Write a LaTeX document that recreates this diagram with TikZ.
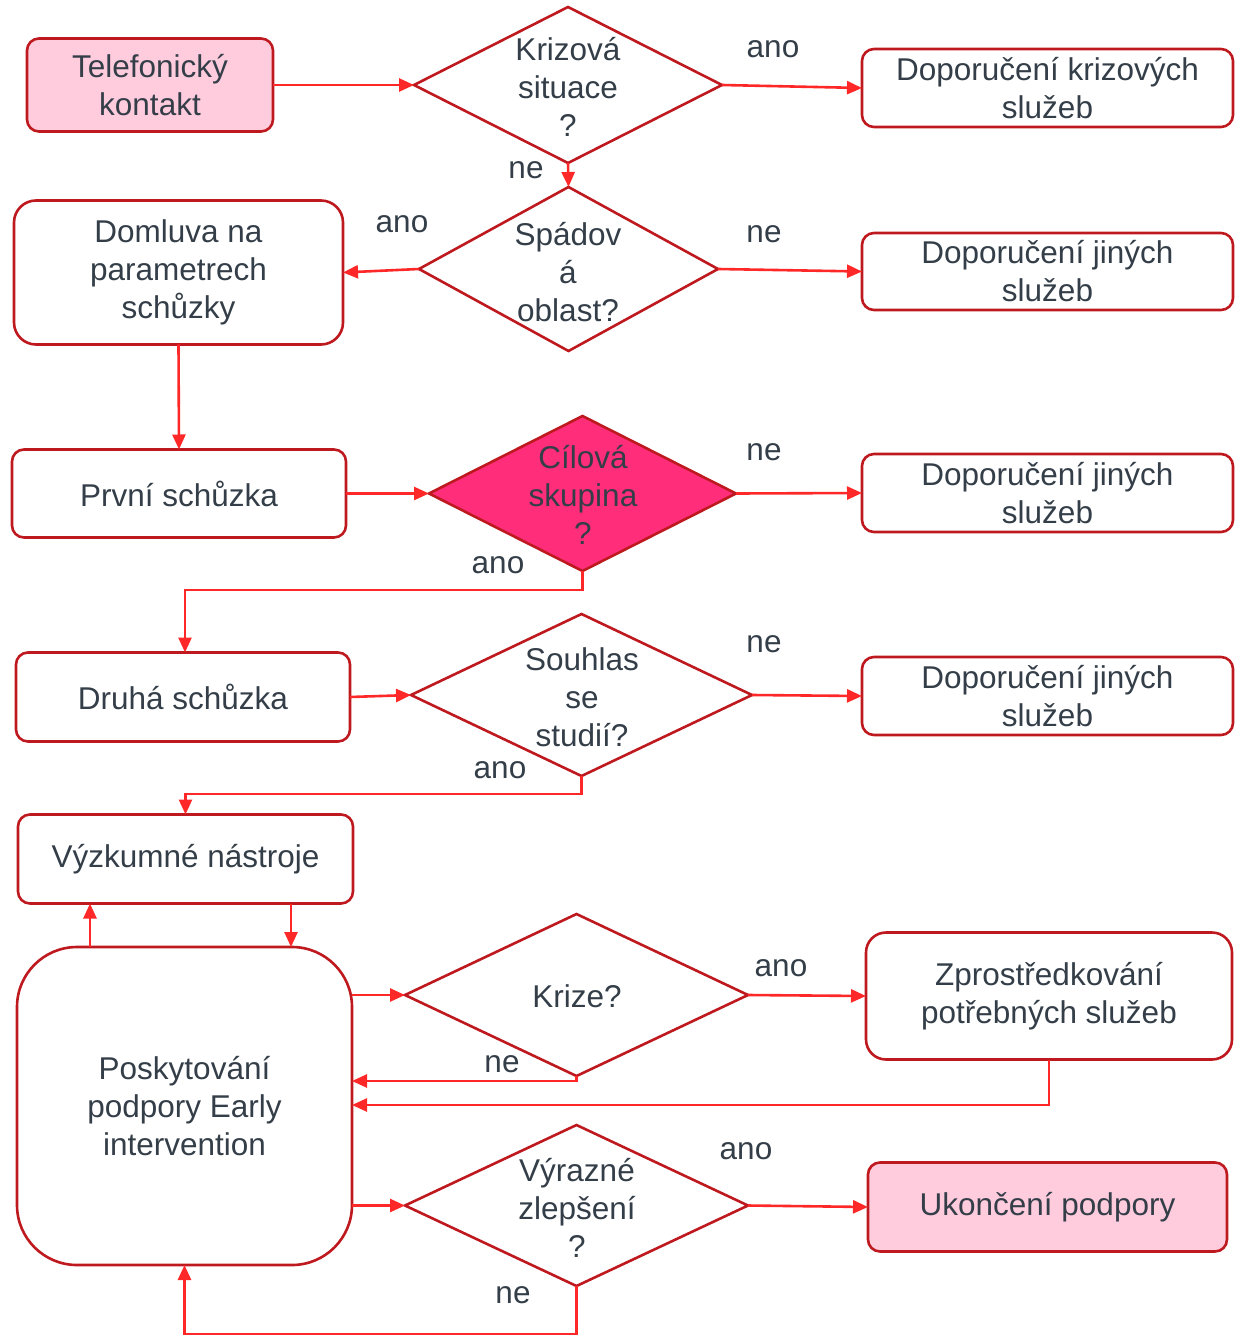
\documentclass[tikz,border=0pt]{standalone}
\usepackage{fontspec}
\setmainfont{Liberation Sans}
\usetikzlibrary{shapes.geometric,arrows.meta,calc}
\definecolor{boxred}{RGB}{190,25,30}
\definecolor{arrred}{RGB}{255,40,40}
\definecolor{txtc}{RGB}{52,62,72}
\definecolor{pinkf}{RGB}{255,204,221}
\definecolor{magf}{RGB}{255,45,122}
\begin{document}
\begin{tikzpicture}[x=1pt,y=-1pt,
  every node/.style={font=\fontsize{31.5}{38}\selectfont, text=txtc, align=center},
  box/.style={draw=boxred, line width=2.6pt, rounded corners=12pt, inner sep=0pt, outer sep=0pt},
  dia/.style={diamond, draw=boxred, line width=2.6pt, inner sep=0pt, outer sep=0pt},
  arr/.style={draw=arrred, line width=2.6pt, -{Triangle[length=15pt,width=13pt]}},
  lbl/.style={inner sep=0pt}]
\useasboundingbox (0,0) rectangle (1243,1340);
% boxes
\node[box, fill=pinkf, minimum width=246, minimum height=93] (tel) at (150,85) {Telefonický\\kontakt};
\node[box, minimum width=371, minimum height=78] (kr) at (1047.5,88) {Doporučení krizových\\služeb};
\node[box, rounded corners=22pt, minimum width=329, minimum height=144] (dom) at (178.5,272.5) {Domluva na\\parametrech\\schůzky};
\node[box, minimum width=371, minimum height=77] (j1) at (1047.5,271.5) {Doporučení jiných\\služeb};
\node[box, minimum width=334, minimum height=88] (prv) at (179,493.5) {První schůzka};
\node[box, minimum width=371, minimum height=78] (j2) at (1047.5,493) {Doporučení jiných\\služeb};
\node[box, minimum width=334, minimum height=89] (dru) at (183,697) {Druhá schůzka};
\node[box, minimum width=371, minimum height=78] (j3) at (1047.5,696) {Doporučení jiných\\služeb};
\node[box, minimum width=335, minimum height=89] (vyz) at (185.5,859) {Výzkumné nástroje};
\node[box, rounded corners=60pt, minimum width=335, minimum height=318] (pos) at (184.5,1106) {Poskytování\\podpory Early\\intervention};
\node[box, rounded corners=20pt, minimum width=366, minimum height=127] (zpr) at (1049,996) {Zprostředkování\\potřebných služeb};
\node[box, fill=pinkf, minimum width=359, minimum height=89] (uk) at (1047.5,1207) {Ukončení podpory};
% diamonds
\node[dia, minimum width=308, minimum height=156] (d1) at (568,85) {};
\node (d1t) at (568,87) {Krizová\\situace\\?};
\node[dia, minimum width=299, minimum height=164] (d2) at (568.5,269) {};
\node (d2t) at (568,272) {Spádov\\á\\oblast?};
\node[dia, fill=magf, minimum width=307, minimum height=155] (d3) at (582.5,493.5) {};
\node (d3t) at (583,495) {Cílová\\skupina\\?};
\node[dia, minimum width=341, minimum height=162] (d4) at (581.5,695) {};
\node (d4t) at (582,697) {Souhlas\\se\\studií?};
\node[dia, minimum width=343, minimum height=162] (d5) at (576.5,995) {};
\node (d5t) at (577,996) {Krize?};
\node[dia, minimum width=343, minimum height=161] (d6) at (576.5,1205.5) {};
\node (d6t) at (577,1208) {Výrazné\\zlepšení\\?};
% labels
\node[lbl] (l1) at (773,49) {ano};
\node[lbl] (l2) at (526,170) {ne};
\node[lbl] (l3) at (402,224) {ano};
\node[lbl] (l4) at (764,234) {ne};
\node[lbl] (l5) at (764,452) {ne};
\node[lbl] (l6) at (498,565) {ano};
\node[lbl] (l7) at (764,644) {ne};
\node[lbl] (l8) at (500,770) {ano};
\node[lbl] (l9) at (781,968) {ano};
\node[lbl] (l10) at (502,1064) {ne};
\node[lbl] (l11) at (746,1151) {ano};
\node[lbl] (l12) at (513,1295) {ne};
% connectors
\coordinate (cL) at (90,0);
\coordinate (cR) at (291,0);
\draw[arr] (tel.west -| tel.east) -- (d1.west);
\draw[arr] (d1.east) -- (kr.west);
\draw[arr] (d1.south) -- (d2.north);
\draw[arr] (d2.west) -- (dom.east);
\draw[arr] (d2.east) -- (j1.west);
\draw[arr] (dom.south) -- (prv.north);
\draw[arr] (prv.east) -- (d3.west);
\draw[arr] (d3.east) -- (j2.west);
\draw[arr] (d3.south) -- ++(0,19) -| ([xshift=2pt]dru.north);
\draw[arr] (dru.east) -- (d4.west);
\draw[arr] (d4.east) -- (j3.west);
\draw[arr] (d4.south) -- ++(0,18) -| (vyz.north);
\draw[arr] (pos.north -| cL) -- (vyz.south -| cL);
\draw[arr] (vyz.south -| cR) -- (pos.north -| cR);
\draw[arr] (pos.east |- d5.west) -- (d5.west);
\draw[arr] (d5.east) -- (zpr.west);
\draw[arr] (d5.south) |- ([yshift=25pt]pos.east);
\draw[arr] (zpr.south) |- ([yshift=1pt]pos.east);
\draw[arr] (pos.east |- d6.west) -- (d6.west);
\draw[arr] (d6.east) -- (uk.west);
\draw[arr] (d6.south) -- ++(0,48) -| (pos.south);
\end{tikzpicture}
\end{document}
